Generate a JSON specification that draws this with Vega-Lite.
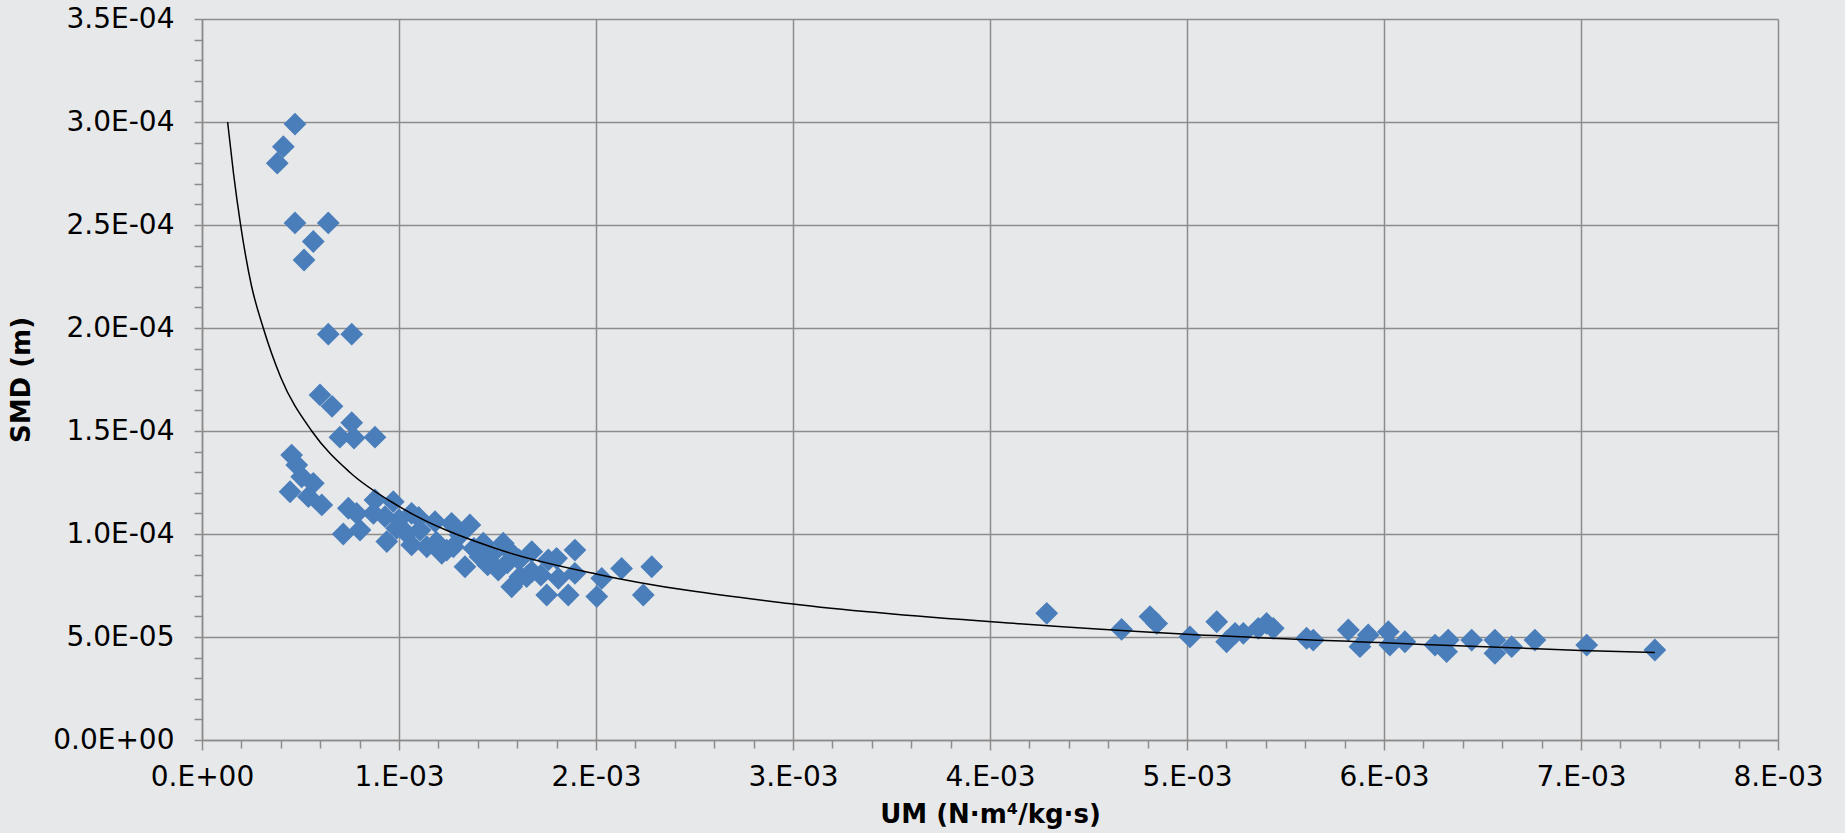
{
  "$schema": "https://vega.github.io/schema/vega-lite/v6.json",
  "width": 1576,
  "height": 721,
  "autosize": "none",
  "padding": {"left": 202, "top": 19, "right": 67, "bottom": 93},
  "background": "#E7E8EA",
  "view": {"stroke": null, "fill": "#E7E8EA"},
  "config": {
    "axis": {
      "domainColor": "#8C8C8C", "domainWidth": 1.5,
      "gridColor": "#8C8C8C", "gridWidth": 1.5,
      "tickColor": "#8C8C8C", "tickWidth": 1.5,
      "labelFont": "DejaVu Sans", "labelFontSize": 28, "labelColor": "#000000",
      "titleFont": "DejaVu Sans", "titleFontSize": 26, "titleFontWeight": "bold", "titleColor": "#000000",
      "labelOverlap": false, "labelFlush": false, "labelBound": false
    }
  },
  "datasets": {
    "points": [
      {"UM": 0.000472, "SMD": 0.000299}, {"UM": 0.000413, "SMD": 0.000288}, {"UM": 0.000382, "SMD": 0.000280},
      {"UM": 0.000472, "SMD": 0.000251}, {"UM": 0.000641, "SMD": 0.000251}, {"UM": 0.000565, "SMD": 0.000242},
      {"UM": 0.000518, "SMD": 0.000233}, {"UM": 0.000641, "SMD": 0.000197}, {"UM": 0.000760, "SMD": 0.000197},
      {"UM": 0.000599, "SMD": 0.0001675}, {"UM": 0.000660, "SMD": 0.000162}, {"UM": 0.000760, "SMD": 0.000154},
      {"UM": 0.000700, "SMD": 0.000147}, {"UM": 0.000772, "SMD": 0.0001466}, {"UM": 0.000878, "SMD": 0.000147},
      {"UM": 0.000455, "SMD": 0.0001383}, {"UM": 0.000481, "SMD": 0.0001335}, {"UM": 0.000506, "SMD": 0.0001278},
      {"UM": 0.000565, "SMD": 0.0001246}, {"UM": 0.000447, "SMD": 0.0001205}, {"UM": 0.000540, "SMD": 0.0001181},
      {"UM": 0.000608, "SMD": 0.0001141}, {"UM": 0.000743, "SMD": 0.0001125}, {"UM": 0.000785, "SMD": 0.000110},
      {"UM": 0.000717, "SMD": 0.000100}, {"UM": 0.000802, "SMD": 0.0001019}, {"UM": 0.000878, "SMD": 0.0001165},
      {"UM": 0.000870, "SMD": 0.000110}, {"UM": 0.000971, "SMD": 0.0001157}, {"UM": 0.000938, "SMD": 0.0000963},
      {"UM": 0.000988, "SMD": 0.0001028}, {"UM": 0.000929, "SMD": 0.0001084}, {"UM": 0.001064, "SMD": 0.000110},
      {"UM": 0.001039, "SMD": 0.0001003}, {"UM": 0.001064, "SMD": 0.0000947}, {"UM": 0.001141, "SMD": 0.0000938},
      {"UM": 0.001183, "SMD": 0.000106}, {"UM": 0.001217, "SMD": 0.0000906}, {"UM": 0.001267, "SMD": 0.0001052},
      {"UM": 0.001276, "SMD": 0.0000938}, {"UM": 0.001242, "SMD": 0.0000922}, {"UM": 0.001360, "SMD": 0.0001044},
      {"UM": 0.001335, "SMD": 0.0000841}, {"UM": 0.001411, "SMD": 0.000089}, {"UM": 0.001428, "SMD": 0.0000955},
      {"UM": 0.001504, "SMD": 0.0000825}, {"UM": 0.001529, "SMD": 0.0000955}, {"UM": 0.001572, "SMD": 0.0000906},
      {"UM": 0.001572, "SMD": 0.0000744}, {"UM": 0.001614, "SMD": 0.0000793}, {"UM": 0.001648, "SMD": 0.0000793},
      {"UM": 0.001674, "SMD": 0.0000914}, {"UM": 0.001674, "SMD": 0.0000817}, {"UM": 0.001750, "SMD": 0.0000704},
      {"UM": 0.001758, "SMD": 0.0000874}, {"UM": 0.001800, "SMD": 0.0000882}, {"UM": 0.001809, "SMD": 0.0000785},
      {"UM": 0.001859, "SMD": 0.0000704}, {"UM": 0.001893, "SMD": 0.0000922}, {"UM": 0.001893, "SMD": 0.0000809},
      {"UM": 0.002004, "SMD": 0.0000696}, {"UM": 0.002029, "SMD": 0.0000785}, {"UM": 0.002130, "SMD": 0.0000833},
      {"UM": 0.002240, "SMD": 0.0000704}, {"UM": 0.002283, "SMD": 0.0000841},
      {"UM": 0.001000, "SMD": 0.000107}, {"UM": 0.001107, "SMD": 0.0001019}, {"UM": 0.001310, "SMD": 0.0000995},
      {"UM": 0.001470, "SMD": 0.000090}, {"UM": 0.001610, "SMD": 0.0000874}, {"UM": 0.001190, "SMD": 0.000096},
      {"UM": 0.001380, "SMD": 0.000093}, {"UM": 0.001550, "SMD": 0.000086}, {"UM": 0.001100, "SMD": 0.000108},
      {"UM": 0.001720, "SMD": 0.000080}, {"UM": 0.001450, "SMD": 0.000085},
      {"UM": 0.004288, "SMD": 0.0000615}, {"UM": 0.004668, "SMD": 0.0000537}, {"UM": 0.004812, "SMD": 0.0000599},
      {"UM": 0.004846, "SMD": 0.0000566}, {"UM": 0.005015, "SMD": 0.0000501}, {"UM": 0.005151, "SMD": 0.0000574},
      {"UM": 0.005201, "SMD": 0.0000477}, {"UM": 0.005244, "SMD": 0.0000518}, {"UM": 0.005286, "SMD": 0.0000518},
      {"UM": 0.005362, "SMD": 0.0000542}, {"UM": 0.005404, "SMD": 0.0000566}, {"UM": 0.005438, "SMD": 0.0000542},
      {"UM": 0.005607, "SMD": 0.0000494}, {"UM": 0.005641, "SMD": 0.0000485}, {"UM": 0.005819, "SMD": 0.0000534},
      {"UM": 0.005878, "SMD": 0.0000453}, {"UM": 0.005920, "SMD": 0.0000510}, {"UM": 0.006022, "SMD": 0.0000526},
      {"UM": 0.006030, "SMD": 0.0000461}, {"UM": 0.006106, "SMD": 0.0000477}, {"UM": 0.006259, "SMD": 0.0000461},
      {"UM": 0.006326, "SMD": 0.0000485}, {"UM": 0.006318, "SMD": 0.0000429}, {"UM": 0.006445, "SMD": 0.0000485},
      {"UM": 0.006563, "SMD": 0.0000485}, {"UM": 0.006563, "SMD": 0.0000421}, {"UM": 0.006648, "SMD": 0.0000453},
      {"UM": 0.006766, "SMD": 0.0000485}, {"UM": 0.007029, "SMD": 0.0000461}, {"UM": 0.007375, "SMD": 0.0000437}
    ],
    "trend": [
      {"UM": 0.000130, "SMD": 0.000300}, {"UM": 0.000160, "SMD": 0.000275}, {"UM": 0.000196, "SMD": 0.000250},
      {"UM": 0.000250, "SMD": 0.000221}, {"UM": 0.000311, "SMD": 0.000200}, {"UM": 0.000400, "SMD": 0.000176},
      {"UM": 0.000557, "SMD": 0.000150}, {"UM": 0.000750, "SMD": 0.000130}, {"UM": 0.001000, "SMD": 0.0001134},
      {"UM": 0.001500, "SMD": 0.0000927}, {"UM": 0.002000, "SMD": 0.0000806}, {"UM": 0.003000, "SMD": 0.0000660},
      {"UM": 0.004150, "SMD": 0.0000564}, {"UM": 0.005000, "SMD": 0.0000513}, {"UM": 0.006000, "SMD": 0.0000472},
      {"UM": 0.007000, "SMD": 0.0000435}, {"UM": 0.007375, "SMD": 0.0000425}
    ]
  },
  "encoding": {
    "x": {
      "field": "UM", "type": "quantitative",
      "scale": {"domain": [0, 0.008], "nice": false, "zero": true},
      "axis": {
        "title": "UM (N·m⁴/kg·s)",
        "values": [0, 0.0002, 0.0004, 0.0006, 0.0008, 0.001, 0.0012, 0.0014, 0.0016, 0.0018, 0.002, 0.0022, 0.0024, 0.0026, 0.0028, 0.003, 0.0032, 0.0034, 0.0036, 0.0038, 0.004, 0.0042, 0.0044, 0.0046, 0.0048, 0.005, 0.0052, 0.0054, 0.0056, 0.0058, 0.006, 0.0062, 0.0064, 0.0066, 0.0068, 0.007, 0.0072, 0.0074, 0.0076, 0.0078, 0.008],
        "labelExpr": "round(datum.value * 10000) % 10 != 0 ? '' : (datum.value == 0 ? '0.E+00' : format(round(datum.value * 1000), 'd') + '.E-03')",
        "gridOpacity": {"condition": {"test": "round(datum.value * 10000) % 10 == 0", "value": 1}, "value": 0},
        "tickSize": {"condition": {"test": "round(datum.value * 10000) % 10 == 0", "value": 10}, "value": 8},
        "labelPadding": 13,
        "titlePadding": 10
      }
    },
    "y": {
      "field": "SMD", "type": "quantitative",
      "scale": {"domain": [0, 0.00035], "nice": false, "zero": true},
      "axis": {
        "title": "SMD (m)",
        "values": [0, 0.00001, 0.00002, 0.00003, 0.00004, 0.00005, 0.00006, 0.00007, 0.00008, 0.00009, 0.0001, 0.00011, 0.00012, 0.00013, 0.00014, 0.00015, 0.00016, 0.00017, 0.00018, 0.00019, 0.0002, 0.00021, 0.00022, 0.00023, 0.00024, 0.00025, 0.00026, 0.00027, 0.00028, 0.00029, 0.0003, 0.00031, 0.00032, 0.00033, 0.00034, 0.00035],
        "labelExpr": "round(datum.value * 100000) % 5 != 0 ? '' : (datum.value == 0 ? '0.0E+00' : (datum.value < 0.0000999 ? format(datum.value * 100000, '.1f') + 'E-05' : format(datum.value * 10000, '.1f') + 'E-04'))",
        "gridOpacity": {"condition": {"test": "round(datum.value * 100000) % 5 == 0", "value": 1}, "value": 0},
        "tickSize": 8,
        "labelPadding": 20,
        "titlePadding": 18
      }
    }
  },
  "layer": [
    {
      "data": {"name": "points"},
      "mark": {"type": "point", "shape": "diamond", "filled": true, "size": 520, "color": "#4A7EBB", "opacity": 1}
    },
    {
      "data": {"name": "trend"},
      "mark": {"type": "line", "color": "#000000", "strokeWidth": 1.5, "interpolate": "monotone"}
    }
  ]
}
